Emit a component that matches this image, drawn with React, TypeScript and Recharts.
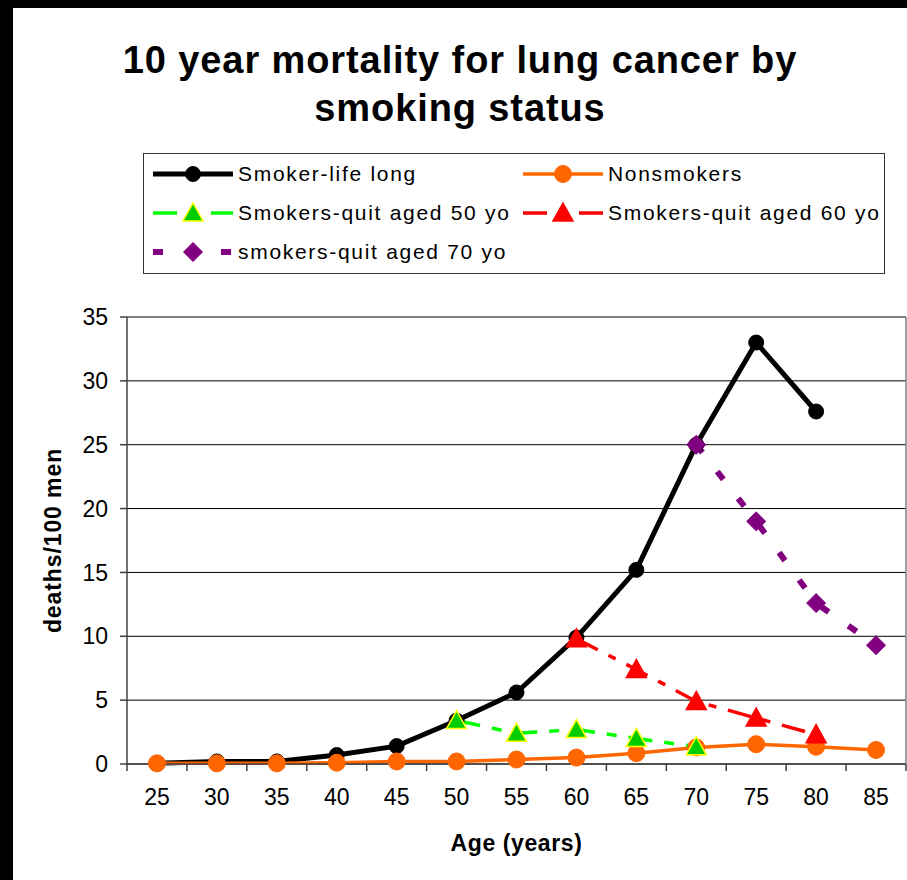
import { LineChart, Line, XAxis, YAxis, CartesianGrid, Legend } from 'recharts';

const ages = ['25', '30', '35', '40', '45', '50', '55', '60', '65', '70', '75', '80', '85'];
const smoker = [0.05, 0.2, 0.2, 0.7, 1.4, 3.4, 5.6, 9.9, 15.2, 25.0, 33.0, 27.6, null];
const nonsmoker = [0.05, 0.05, 0.05, 0.1, 0.2, 0.2, 0.35, 0.5, 0.85, 1.3, 1.55, 1.35, 1.1];
const quit50 = [null, null, null, null, null, 3.4, 2.4, 2.7, 2.0, 1.35, null, null, null];
const quit60 = [null, null, null, null, null, null, null, 9.8, 7.4, 4.9, 3.6, 2.3, null];
const quit70 = [null, null, null, null, null, null, null, null, null, 25.0, 19.0, 12.6, 9.3];
const yTicks = [0, 5, 10, 15, 20, 25, 30, 35];

const data = ages.map((age, i) => ({
  age,
  smoker: smoker[i],
  nonsmoker: nonsmoker[i],
  quit50: quit50[i],
  quit60: quit60[i],
  quit70: quit70[i],
}));

const FONT = '"Liberation Sans", Arial, sans-serif';
const W = 907;
const H = 880;
const PLOT_LEFT = 127;
const PLOT_RIGHT = 906;
const BAND = (PLOT_RIGHT - PLOT_LEFT) / ages.length;

type Marker = 'circle' | 'triangle' | 'diamond';

const series = [
  { key: 'smoker', name: 'Smoker-life long', color: '#000000', width: 5, dash: undefined, marker: 'circle' as Marker, size: 7.5, fill: '#000000', edge: '#000000' },
  { key: 'nonsmoker', name: 'Nonsmokers', color: '#FF6600', width: 3.5, dash: undefined, marker: 'circle' as Marker, size: 8.5, fill: '#FF6600', edge: '#FF6600' },
  { key: 'quit50', name: 'Smokers-quit aged 50 yo', color: '#00FF00', width: 3.5, dash: '24 12 10 12', marker: 'triangle' as Marker, size: 10, fill: '#00CC00', edge: '#FFFF00' },
  { key: 'quit60', name: 'Smokers-quit aged 60 yo', color: '#FF0000', width: 3.5, dash: '24 12 8 12', marker: 'triangle' as Marker, size: 10, fill: '#FF0000', edge: '#FF0000' },
  { key: 'quit70', name: 'smokers-quit aged 70 yo', color: '#800080', width: 6, dash: '10 24', marker: 'diamond' as Marker, size: 9.5, fill: '#800080', edge: '#800080' },
];

function markerShape(m: Marker, cx: number, cy: number, s: number, fill: string, edge: string, key?: string | number) {
  if (m === 'circle') return <circle key={key} cx={cx} cy={cy} r={s} fill={fill} stroke={edge} strokeWidth={1} />;
  if (m === 'triangle') {
    const d = `M${cx},${cy - s} L${cx + s},${cy + s * 0.8} L${cx - s},${cy + s * 0.8} Z`;
    return <path key={key} d={d} fill={fill} stroke={edge} strokeWidth={1.5} />;
  }
  const d = `M${cx},${cy - s} L${cx + s},${cy} L${cx},${cy + s} L${cx - s},${cy} Z`;
  return <path key={key} d={d} fill={fill} stroke={edge} strokeWidth={1} />;
}

const makeDot = (s: typeof series[number]) => (props: any) => {
  const { cx, cy, index } = props;
  if (cx == null || cy == null || props.value == null) return <g key={`e-${s.key}-${index}`} />;
  return markerShape(s.marker, cx, cy, s.size, s.fill, s.edge, `${s.key}-${index}`);
};

const XTick = (props: any) => {
  const { x, y, payload, index } = props;
  const axisY = y - 8;
  const half = BAND / 2;
  return (
    <g>
      <line x1={x - half} y1={axisY} x2={x - half} y2={axisY + 7} stroke="#404040" strokeWidth={1.5} />
      {index === ages.length - 1 && (
        <line x1={x + half} y1={axisY} x2={x + half} y2={axisY + 7} stroke="#404040" strokeWidth={1.5} />
      )}
      <text x={x} y={axisY + 41} textAnchor="middle" fontSize={23} fontFamily={FONT} fill="#000">
        {payload.value}
      </text>
    </g>
  );
};

const LegendBox = () => {
  const rowY = [20, 59, 98];
  const colX = [9, 379];
  return (
    <div style={{ position: 'relative', width: 742, height: 121, border: '1px solid #333', boxSizing: 'border-box', background: '#fff', fontFamily: FONT }}>
      {series.map((s, i) => {
        const col = i % 2;
        const row = Math.floor(i / 2);
        return (
          <div key={s.key} style={{ position: 'absolute', left: colX[col], top: rowY[row] - 14, height: 28, display: 'flex', alignItems: 'center', whiteSpace: 'nowrap' }}>
            <svg width={82} height={28} style={{ display: 'block' }}>
              <line x1={0} y1={14} x2={80} y2={14} stroke={s.color} strokeWidth={s.width} strokeDasharray={s.dash} />
              {markerShape(s.marker, 40, 14, s.size, s.fill, s.edge)}
            </svg>
            <span style={{ fontSize: 21, letterSpacing: 1.7, color: '#000', marginLeft: 3 }}>{s.name}</span>
          </div>
        );
      })}
    </div>
  );
};

export default function App() {
  return (
    <div style={{ position: 'absolute', left: 0, top: 0, width: W, height: H, background: '#fff', overflow: 'hidden' }}>
      <div style={{ position: 'absolute', left: 0, top: 0, width: W, height: 8, background: '#000' }} />
      <div style={{ position: 'absolute', left: 0, top: 0, width: 13, height: H, background: '#000' }} />
      <div style={{ position: 'absolute', left: 13, top: 36, width: W - 13, textAlign: 'center', fontFamily: FONT, fontWeight: 'bold', fontSize: 38, letterSpacing: 0.9, lineHeight: '48px', color: '#000' }}>
        10 year mortality for lung cancer by
        <br />
        smoking status
      </div>
      <div style={{ position: 'absolute', left: 0, top: 0 }}>
        <LineChart width={W} height={H} data={data} margin={{ top: 317, right: 0, left: 0, bottom: 76 }}>
          <CartesianGrid vertical={false} stroke="#000" strokeWidth={1} />
          <XAxis
            dataKey="age"
            height={40}
            padding={{ left: BAND / 2, right: BAND / 2 }}
            tickLine={false}
            axisLine={{ stroke: '#404040', strokeWidth: 1.5 }}
            tick={<XTick />}
            interval={0}
            label={{
              content: ({ viewBox }: any) => (
                <text x={PLOT_LEFT + (PLOT_RIGHT - PLOT_LEFT) / 2} y={viewBox.y + 87} textAnchor="middle" fontSize={23} letterSpacing={0.6} fontWeight="bold" fontFamily={FONT} fill="#000">
                  Age (years)
                </text>
              ),
            }}
          />
          <YAxis
            width={PLOT_LEFT}
            domain={[0, 35]}
            ticks={yTicks}
            interval={0}
            tickSize={7}
            tickMargin={12}
            tickLine={{ stroke: '#404040', strokeWidth: 1.5 }}
            axisLine={{ stroke: '#404040', strokeWidth: 1.5 }}
            tick={{ fontSize: 23, fontFamily: FONT, fill: '#000' }}
            label={{
              content: ({ viewBox }: any) => (
                <text x={53} y={viewBox.y + viewBox.height / 2} transform={`rotate(-90 53 ${viewBox.y + viewBox.height / 2})`} textAnchor="middle" dominantBaseline="central" fontSize={23} letterSpacing={0.9} fontWeight="bold" fontFamily={FONT} fill="#000">
                  deaths/100 men
                </text>
              ),
            }}
          />
          <YAxis yAxisId="r" orientation="right" width={1} domain={[0, 35]} tick={false} tickLine={false} axisLine={{ stroke: '#808080', strokeWidth: 1.5 }} />
          <Legend
            layout="horizontal"
            verticalAlign="middle"
            align="center"
            wrapperStyle={{ top: 153, left: 143, width: 742, height: 121 }}
            content={() => <LegendBox />}
          />
          {series.map((s) => (
            <Line
              key={s.key}
              dataKey={s.key}
              name={s.name}
              stroke={s.color}
              strokeWidth={s.width}
              strokeDasharray={s.dash}
              dot={makeDot(s)}
              activeDot={false}
              isAnimationActive={false}
            />
          ))}
        </LineChart>
      </div>
    </div>
  );
}
